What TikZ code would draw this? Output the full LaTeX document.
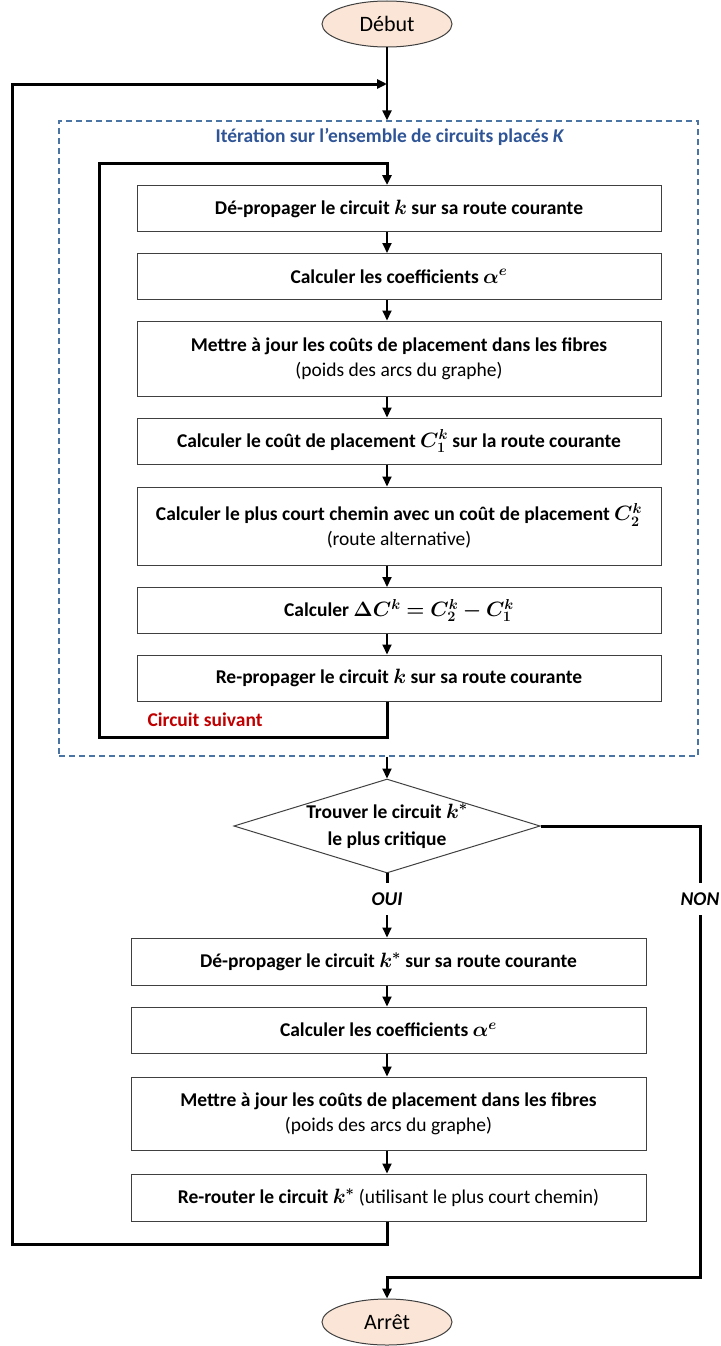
\documentclass[tikz,border=0pt]{standalone}
\usepackage{amsmath,amssymb,bm}
\usepackage{fontspec}
\setmainfont{Carlito}
\usetikzlibrary{arrows.meta,positioning,calc,shapes.geometric}
\definecolor{ink}{HTML}{000000}
\definecolor{frame}{HTML}{404040}
\definecolor{peach}{HTML}{FBE5D6}
\definecolor{dashblue}{HTML}{4A74A4}
\definecolor{titleblue}{HTML}{2F5597}
\definecolor{nextred}{HTML}{C00000}

\tikzset{
  stepbox/.style={
    draw=frame,
    line width=1pt,
    fill=white,
    minimum height=46pt,
    inner sep=0pt,
    align=center,
    font=\bfseries\fontsize{19.5}{25}\selectfont
  },
  upbox/.style={stepbox, minimum width=524pt},
  lowbox/.style={stepbox, minimum width=515pt},
  terminal/.style={
    ellipse,
    draw=frame,
    line width=1pt,
    fill=peach,
    minimum width=130pt,
    minimum height=46pt,
    font=\fontsize{22}{24}\selectfont
  },
  decision/.style={
    diamond,
    draw=frame,
    line width=1pt,
    shape aspect=3.26,
    minimum width=303pt,
    minimum height=93pt,
    inner sep=0pt,
    align=center,
    font=\bfseries\fontsize{19.5}{27}\selectfont
  },
  flow/.style={line width=2pt, -{Triangle[length=10pt,width=9pt]}},
  loopline/.style={line width=3pt},
  answer/.style={inner sep=0pt, minimum height=32pt, font=\bfseries\itshape\fontsize{19.5}{22}\selectfont}
}

\begin{document}
\begin{tikzpicture}[x=1pt,y=-1pt]
  \useasboundingbox (0,0) rectangle (720,1346);
  \coordinate (axis) at (387,0);

  % debut / arret
  \node[terminal] (debut) at (387,24) {Début};
  \node[terminal] (arret) at (387,1322) {Arrêt};

  % zone d'iteration
  \node[draw=dashblue, line width=1.2pt, dash pattern=on 6pt off 4pt,
        minimum width=639pt, minimum height=635pt, inner sep=0pt]
    (iterzone) at (378.5,438.5) {};
  \node[font=\bfseries\fontsize{19.5}{22}\selectfont, text=titleblue]
    (itertitle) at (390,137) {Itération sur l’ensemble de circuits placés \textit{K}};

  % boucle interne
  \node[upbox] (b1) at (399,208.5) {Dé-propager le circuit $\bm{k}$ sur sa route courante};
  \node[upbox] (b2) at (399,276.5) {Calculer les coefficients $\bm{\alpha^e}$};
  \node[upbox, minimum height=75pt] (b3) at (399,358.5)
    {Mettre à jour les coûts de placement dans les fibres\\ \mdseries(poids des arcs du graphe)};
  \node[upbox] (b4) at (399,441) {Calculer le coût de placement $\bm{C_1^k}$ sur la route courante};
  \node[upbox, minimum height=78pt] (b5) at (399,526)
    {Calculer le plus court chemin avec un coût de placement $\bm{C_2^k}$\\ \mdseries(route alternative)};
  \node[upbox] (b6) at (399,610.5) {Calculer $\bm{\Delta C^k = C_2^k - C_1^k}$};
  \node[upbox] (b7) at (399,678) {Re-propager le circuit $\bm{k}$ sur sa route courante};
  \node[anchor=west, text=nextred, font=\bfseries\fontsize{19.5}{22}\selectfont]
    (suivant) at (144,720) {Circuit suivant};

  % decision
  \node[decision] (crit) at (387,826) {Trouver le circuit $\bm{k^*}$\\le plus critique};
  \node[answer] (oui) at (387,899) {OUI};
  \node[answer] (non) at (700,899) {NON};

  % re-routage
  \node[lowbox, minimum height=47pt] (b8) at (388.5,961.5) {Dé-propager le circuit $\bm{k^*}$ sur sa route courante};
  \node[lowbox] (b9) at (388.5,1030) {Calculer les coefficients $\bm{\alpha^e}$};
  \node[lowbox, minimum height=73pt] (b10) at (388.5,1113.5)
    {Mettre à jour les coûts de placement dans les fibres\\ \mdseries(poids des arcs du graphe)};
  \node[lowbox, minimum height=47pt] (b11) at (388.5,1197.5)
    {Re-router le circuit $\bm{k^*}$ \mdseries(utilisant le plus court chemin)};

  \coordinate (intop) at (99,163);
  \coordinate (inbot) at (99,737);
  \coordinate (outtop) at (12,84);
  \coordinate (outbot) at (12,1244);
  \coordinate (nonbot) at (700,1277);

  % connecteurs
  \draw[flow] (debut.south) -- (iterzone.north -| axis);
  \foreach \a/\b in {b1/b2,b2/b3,b3/b4,b4/b5,b5/b6,b6/b7,b8/b9,b9/b10,b10/b11}
    \draw[flow] (\a.south -| axis) -- (\b.north -| axis);
  \draw[loopline, -{Triangle[length=10pt,width=9pt]}]
    (b7.south -| axis) |- (inbot) -- (intop) -| (b1.north -| axis);
  \draw[flow] (iterzone.south -| axis) -- (crit.north);
  \draw[loopline] (crit.south) -- (oui.north);
  \draw[flow] (oui.south) -- (b8.north -| axis);
  \draw[loopline] (crit.east) -| (non.north);
  \draw[loopline, -{Triangle[length=10pt,width=9pt]}]
    (non.south) -- (nonbot) -| (arret.north);
  \draw[loopline, -{Triangle[length=10pt,width=9pt]}]
    (b11.south -| axis) |- (outbot) -- (outtop) -- (outtop -| axis);
\end{tikzpicture}
\end{document}
